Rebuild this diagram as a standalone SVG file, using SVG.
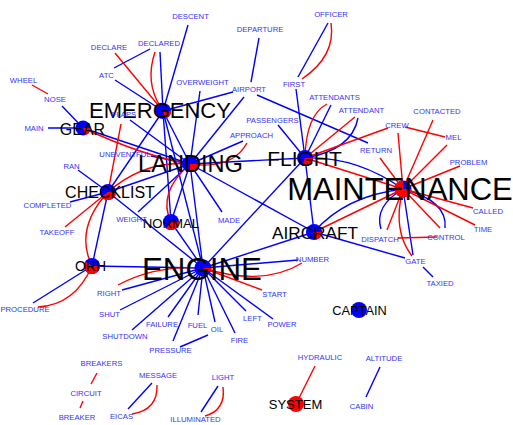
<svg xmlns="http://www.w3.org/2000/svg" width="513" height="425" viewBox="0 0 513 425">
<style>
  .b { stroke: #0000ff; stroke-width: 1.4; fill: none; }
  .r { stroke: #ff0000; stroke-width: 1.4; fill: none; }
  .w { font-family: "Liberation Sans", Arial, sans-serif; font-size: 7.7px; fill: #3333ff; text-anchor: middle; }
  .h { font-family: "Liberation Sans", Arial, sans-serif; fill: #000000; text-anchor: middle; }
  .cb { fill: #0000ff; }
  .cr { fill: #ff0000; }
</style>
<rect width="513" height="425" fill="#ffffff"/>

<g id="connectors">
  <!-- blue straight -->
  <line class="b" x1="188" y1="25" x2="163" y2="111"/>
  <line class="b" x1="160" y1="52" x2="163" y2="111"/>
  <line class="b" x1="114" y1="68" x2="150" y2="49"/>
  <line class="b" x1="115" y1="80" x2="163" y2="111"/>
  <line class="b" x1="62" y1="106" x2="83" y2="128"/>
  <line class="b" x1="48" y1="128" x2="83" y2="128"/>
  <line class="b" x1="259" y1="38" x2="251" y2="82"/>
  <line class="b" x1="233" y1="92" x2="163" y2="111"/>
  <line class="b" x1="244" y1="97" x2="190" y2="164"/>
  <line class="b" x1="257" y1="95" x2="368" y2="143"/>
  <line class="b" x1="200" y1="91" x2="190" y2="164"/>
  <line class="b" x1="130" y1="120" x2="190" y2="164"/>
  <line class="b" x1="83" y1="128" x2="190" y2="164"/>
  <line class="b" x1="151" y1="156" x2="190" y2="164"/>
  <line class="b" x1="163" y1="111" x2="190" y2="164"/>
  <line class="b" x1="163" y1="111" x2="108" y2="192"/>
  <line class="b" x1="163" y1="111" x2="203" y2="268"/>
  <line class="b" x1="163" y1="111" x2="171" y2="222"/>
  <line class="b" x1="78" y1="170" x2="108" y2="192"/>
  <line class="b" x1="70" y1="202" x2="108" y2="192"/>
  <line class="b" x1="108" y1="192" x2="190" y2="164"/>
  <line class="b" x1="108" y1="192" x2="92" y2="266"/>
  <line class="b" x1="108" y1="192" x2="203" y2="268"/>
  <line class="b" x1="138" y1="212" x2="190" y2="164"/>
  <line class="b" x1="171" y1="222" x2="190" y2="164"/>
  <line class="b" x1="171" y1="222" x2="203" y2="268"/>
  <line class="b" x1="222" y1="212" x2="190" y2="164"/>
  <line class="b" x1="190" y1="164" x2="203" y2="268"/>
  <line class="b" x1="190" y1="164" x2="314" y2="232"/>
  <line class="b" x1="190" y1="164" x2="305" y2="158"/>
  <line class="b" x1="243" y1="141" x2="190" y2="164"/>
  <line class="b" x1="278" y1="125" x2="305" y2="158"/>
  <line class="b" x1="296" y1="89" x2="305" y2="158"/>
  <line class="b" x1="328" y1="23" x2="298" y2="77"/>
  <line class="b" x1="331" y1="105" x2="305" y2="158"/>
  <line class="b" x1="203" y1="268" x2="305" y2="158"/>
  <line class="b" x1="305" y1="158" x2="314" y2="232"/>
  <line class="b" x1="203" y1="268" x2="314" y2="232"/>
  <line class="b" x1="314" y1="232" x2="405" y2="258"/>
  <line class="b" x1="423" y1="267" x2="433" y2="277"/>
  <line class="b" x1="413" y1="255" x2="403" y2="189"/>
  <line class="b" x1="203" y1="268" x2="298" y2="260"/>
  <line class="b" x1="92" y1="266" x2="203" y2="268"/>
  <line class="b" x1="33" y1="303" x2="92" y2="266"/>
  <line class="b" x1="122" y1="290" x2="203" y2="268"/>
  <line class="b" x1="120" y1="310" x2="203" y2="268"/>
  <line class="b" x1="132" y1="330" x2="203" y2="268"/>
  <line class="b" x1="168" y1="317" x2="203" y2="268"/>
  <line class="b" x1="173" y1="341" x2="203" y2="268"/>
  <line class="b" x1="198" y1="315" x2="203" y2="268"/>
  <line class="b" x1="215" y1="322" x2="203" y2="268"/>
  <line class="b" x1="208" y1="335" x2="180" y2="347"/>
  <line class="b" x1="235" y1="333" x2="203" y2="268"/>
  <line class="b" x1="246" y1="311" x2="203" y2="268"/>
  <line class="b" x1="273" y1="319" x2="203" y2="268"/>
  <line class="b" x1="152" y1="383" x2="128" y2="409"/>
  <line class="b" x1="218" y1="386" x2="201" y2="412"/>
  <line class="b" x1="380" y1="367" x2="366" y2="397"/>
  <!-- blue curved -->
  <path class="b" d="M358,118 Q352,150 305,158"/>
  <path class="b" d="M305,158 Q356,156 403,189"/>
  <path class="b" d="M314,232 Q345,196 403,189"/>
  <path class="b" d="M445,228 Q448,201 403,189"/>
  <path class="b" d="M381,229 Q374,206 403,189"/>
  <!-- red straight -->
  <line class="r" x1="115" y1="53" x2="163" y2="111"/>
  <line class="r" x1="32" y1="85" x2="48" y2="94"/>
  <line class="r" x1="121" y1="124" x2="108" y2="192"/>
  <line class="r" x1="65" y1="227" x2="108" y2="192"/>
  <line class="r" x1="355" y1="117" x2="305" y2="158"/>
  <line class="r" x1="388" y1="128" x2="305" y2="158"/>
  <line class="r" x1="305" y1="158" x2="403" y2="189"/>
  <line class="r" x1="405" y1="127" x2="445" y2="137"/>
  <line class="r" x1="398" y1="133" x2="403" y2="189"/>
  <line class="r" x1="433" y1="120" x2="403" y2="189"/>
  <line class="r" x1="447" y1="145" x2="403" y2="189"/>
  <line class="r" x1="460" y1="166" x2="403" y2="189"/>
  <line class="r" x1="473" y1="208" x2="403" y2="189"/>
  <line class="r" x1="475" y1="225" x2="403" y2="189"/>
  <line class="r" x1="440" y1="228" x2="403" y2="189"/>
  <line class="r" x1="387" y1="230" x2="403" y2="189"/>
  <line class="r" x1="398" y1="238" x2="437" y2="237"/>
  <line class="r" x1="380" y1="158" x2="403" y2="189"/>
  <line class="r" x1="314" y1="232" x2="403" y2="189"/>
  <line class="r" x1="203" y1="268" x2="262" y2="290"/>
  <line class="r" x1="315" y1="366" x2="296" y2="404"/>
  <line class="r" x1="97" y1="373" x2="91" y2="384"/>
  <line class="r" x1="83" y1="401" x2="80" y2="408"/>
  <!-- red curved -->
  <path class="r" d="M155,52 Q145,82 160,106"/>
  <path class="r" d="M331,23 Q336,56 302,79"/>
  <path class="r" d="M327,104 Q306,115 305,158"/>
  <path class="r" d="M83,128 Q143.5,156 190,164"/>
  <path class="r" d="M247,143 Q232,170 190,164"/>
  <path class="r" d="M108,192 Q145,160 190,164"/>
  <path class="r" d="M171,222 Q157,193 190,164"/>
  <path class="r" d="M108,192 Q74,229 92,266"/>
  <path class="r" d="M38,307 Q75,305 92,266"/>
  <path class="r" d="M118,285 Q155,265 203,268"/>
  <path class="r" d="M203,268 Q263,287 302,263"/>
  <path class="r" d="M412,256 Q392,230 403,189"/>
  <path class="r" d="M157,385 Q158,410 132,414"/>
  <path class="r" d="M223,387 Q226,410 205,416"/>
</g>

<!-- hub nodes: blue/red pie with large label -->
<g id="emergency"><circle class="cb" cx="163" cy="111" r="8"/><path class="cr" d="M163,111 L171,111 A8,8 0 0 1 165.47,118.61 Z"/><text class="h" x="160" y="118" font-size="22">EMERGENCY</text></g>
<g id="gear"><circle class="cb" cx="83" cy="128" r="7.5"/><path class="cr" d="M83,128 L90.5,128 A7.5,7.5 0 0 1 85.32,135.13 Z"/><text class="h" x="82.5" y="135" font-size="16">GEAR</text></g>
<g id="landing"><circle class="cb" cx="190" cy="164" r="8"/><path class="cr" d="M190,164 L198,164 A8,8 0 0 1 190,172 Z"/><text class="h" x="190.5" y="172" font-size="23.6">LANDING</text></g>
<g id="checklist"><circle class="cb" cx="108" cy="192" r="8"/><path class="cr" d="M108,192 L116,192 A8,8 0 0 1 101.53,196.70 Z"/><text class="h" x="110" y="198" font-size="16">CHECKLIST</text></g>
<g id="normal"><circle class="cb" cx="171" cy="222" r="8"/><path class="cr" d="M171,222 L179,222 A8,8 0 0 1 166.30,228.47 Z"/><text class="h" x="171" y="228" font-size="13.2">NORMAL</text></g>
<g id="orh"><circle class="cb" cx="92" cy="266" r="8"/><path class="cr" d="M92,266 L100,266 A8,8 0 1 1 85.53,261.30 Z"/><text class="h" x="90.5" y="271" font-size="14">ORH</text></g>
<g id="engine"><circle class="cb" cx="203" cy="268" r="8.5"/><path class="cr" d="M203,268 L211.5,268 A8.5,8.5 0 0 1 210.45,272.10 Z"/><text class="h" x="202" y="280" font-size="31.3">ENGINE</text></g>
<g id="flight"><circle class="cb" cx="305" cy="158" r="8"/><path class="cr" d="M305,158 L313,158 A8,8 0 0 1 302.53,165.61 Z"/><text class="h" x="304.5" y="166" font-size="21">FLIGHT</text></g>
<g id="maintenance"><circle class="cb" cx="403" cy="189" r="8.5"/><path class="cr" d="M403,189 L411.5,189 A8.5,8.5 0 1 1 403,180.5 Z"/><text class="h" x="400" y="200" font-size="31">MAINTENANCE</text></g>
<g id="aircraft"><circle class="cb" cx="314" cy="232" r="8"/><path class="cr" d="M314,232 L322,232 A8,8 0 0 1 316.47,239.61 Z"/><text class="h" x="315" y="239" font-size="17.2">AIRCRAFT</text></g>
<g id="captain"><circle class="cb" cx="359" cy="310" r="8"/><text class="h" x="359.5" y="315" font-size="12.8">CAPTAIN</text></g>
<g id="system"><circle class="cr" cx="296" cy="404" r="8"/><text class="h" x="295.5" y="409" font-size="13">SYSTEM</text></g>

<!-- word nodes -->
<g id="descent"><text class="w" x="190.5" y="19">DESCENT</text></g>
<g id="departure"><text class="w" x="260" y="31.5">DEPARTURE</text></g>
<g id="officer"><text class="w" x="331" y="16.5">OFFICER</text></g>
<g id="declare"><text class="w" x="109" y="49.5">DECLARE</text></g>
<g id="declared"><text class="w" x="159" y="46">DECLARED</text></g>
<g id="atc"><text class="w" x="106.5" y="77.8">ATC</text></g>
<g id="wheel"><text class="w" x="23.5" y="82.8">WHEEL</text></g>
<g id="nose"><text class="w" x="55" y="101.8">NOSE</text></g>
<g id="main"><text class="w" x="34" y="130.8">MAIN</text></g>
<g id="overweight"><text class="w" x="202.5" y="84.5">OVERWEIGHT</text></g>
<g id="airport"><text class="w" x="249" y="91.8">AIRPORT</text></g>
<g id="flaps"><text class="w" x="124" y="116.8">FLAPS</text></g>
<g id="first"><text class="w" x="294" y="86.5">FIRST</text></g>
<g id="attendants"><text class="w" x="334.5" y="99.5">ATTENDANTS</text></g>
<g id="attendant"><text class="w" x="361.5" y="112.5">ATTENDANT</text></g>
<g id="contacted"><text class="w" x="437" y="113.8">CONTACTED</text></g>
<g id="crew"><text class="w" x="397" y="127.8">CREW</text></g>
<g id="mel"><text class="w" x="453.5" y="140.3">MEL</text></g>
<g id="passengers"><text class="w" x="272.5" y="122.8">PASSENGERS</text></g>
<g id="approach"><text class="w" x="251.5" y="137.8">APPROACH</text></g>
<g id="return"><text class="w" x="376" y="152.8">RETURN</text></g>
<g id="problem"><text class="w" x="468.5" y="164.5">PROBLEM</text></g>
<g id="called"><text class="w" x="488" y="213.8">CALLED</text></g>
<g id="time"><text class="w" x="483" y="231.8">TIME</text></g>
<g id="control"><text class="w" x="446" y="239.5">CONTROL</text></g>
<g id="dispatch"><text class="w" x="380" y="241.8">DISPATCH</text></g>
<g id="gate"><text class="w" x="415.5" y="263.5">GATE</text></g>
<g id="taxied"><text class="w" x="440" y="285.8">TAXIED</text></g>
<g id="number"><text class="w" x="312.5" y="261.8">NUMBER</text></g>
<g id="start"><text class="w" x="274.5" y="297">START</text></g>
<g id="power"><text class="w" x="282" y="326.8">POWER</text></g>
<g id="left"><text class="w" x="252.5" y="321">LEFT</text></g>
<g id="fire"><text class="w" x="239.5" y="342.8">FIRE</text></g>
<g id="oil"><text class="w" x="217" y="331.8">OIL</text></g>
<g id="fuel"><text class="w" x="197.5" y="327.8">FUEL</text></g>
<g id="failure"><text class="w" x="162" y="326.8">FAILURE</text></g>
<g id="pressure"><text class="w" x="170.5" y="352.8">PRESSURE</text></g>
<g id="shutdown"><text class="w" x="125" y="338.8">SHUTDOWN</text></g>
<g id="shut"><text class="w" x="109.5" y="316.8">SHUT</text></g>
<g id="right"><text class="w" x="109" y="296">RIGHT</text></g>
<g id="procedure"><text class="w" x="25" y="311.8">PROCEDURE</text></g>
<g id="uneventful"><text class="w" x="125" y="156.8">UNEVENTFUL</text></g>
<g id="ran"><text class="w" x="71.5" y="168.5">RAN</text></g>
<g id="completed"><text class="w" x="47.5" y="207.8">COMPLETED</text></g>
<g id="takeoff"><text class="w" x="57" y="234.5">TAKEOFF</text></g>
<g id="weight"><text class="w" x="131.5" y="221.8">WEIGHT</text></g>
<g id="made"><text class="w" x="229" y="222.8">MADE</text></g>
<g id="breakers"><text class="w" x="101.5" y="366">BREAKERS</text></g>
<g id="circuit"><text class="w" x="86" y="395.8">CIRCUIT</text></g>
<g id="breaker"><text class="w" x="77" y="419.5">BREAKER</text></g>
<g id="message"><text class="w" x="158" y="377.8">MESSAGE</text></g>
<g id="eicas"><text class="w" x="121.5" y="418.8">EICAS</text></g>
<g id="light"><text class="w" x="223" y="379.8">LIGHT</text></g>
<g id="illuminated"><text class="w" x="195.5" y="422">ILLUMINATED</text></g>
<g id="hydraulic"><text class="w" x="320" y="360">HYDRAULIC</text></g>
<g id="altitude"><text class="w" x="384" y="361">ALTITUDE</text></g>
<g id="cabin"><text class="w" x="361.5" y="408.5">CABIN</text></g>
</svg>
